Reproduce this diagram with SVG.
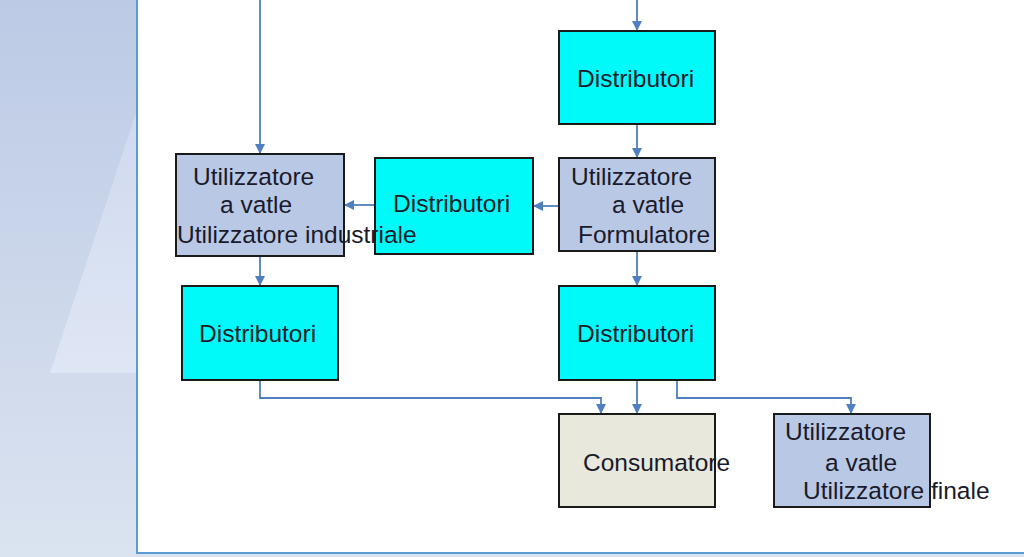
<svg xmlns="http://www.w3.org/2000/svg" width="1024" height="557" viewBox="0 0 1024 557">
<defs>
<linearGradient id="bg" x1="0" y1="0" x2="0" y2="1">
<stop offset="0" stop-color="#bccae5"/>
<stop offset="1" stop-color="#dbe3f0"/>
</linearGradient>
<linearGradient id="sh" x1="0" y1="0" x2="0" y2="1">
<stop offset="0" stop-color="#d3dcf0"/>
<stop offset="1" stop-color="#e2e9f7"/>
</linearGradient>
<marker id="ah" viewBox="0 0 10 10" refX="10" refY="5" markerWidth="10" markerHeight="10" markerUnits="userSpaceOnUse" orient="auto">
<path d="M0,0 L10,5 L0,10 z" fill="#4f7fc0"/>
</marker>
<style>
.cy{fill:#00fafa;stroke:#1a1a1a;stroke-width:2}
.bl{fill:#b9c9e5;stroke:#1a1a1a;stroke-width:2}
.bg{fill:#e8e8dc;stroke:#1a1a1a;stroke-width:2}
.t{font-family:"Liberation Sans",Arial,sans-serif;font-size:24.5px;fill:#1a1a2a}
.c{fill:none;stroke:#4f7fc0;stroke-width:1.8;marker-end:url(#ah)}
</style>
</defs>
<rect x="0" y="0" width="1024" height="557" fill="url(#bg)"/>
<polygon points="50,373 137,110 137,373" fill="url(#sh)" opacity="0.8"/>
<rect x="137" y="-5" width="900" height="558" fill="#ffffff" stroke="#5b9bd5" stroke-width="2"/>

<g id="connectors">
<path class="c" d="M260,0 V154"/>
<path class="c" d="M637,0 V31"/>
<path class="c" d="M637,124 V158"/>
<path class="c" d="M375,205 H344"/>
<path class="c" d="M559,206 H533"/>
<path class="c" d="M637,251 V286"/>
<path class="c" d="M260,256 V286"/>
<path class="c" d="M260,380 V398 H601 V414"/>
<path class="c" d="M637,380 V414"/>
<path class="c" d="M677,380 V398 H851 V414"/>
</g>

<g id="dist-top">
<rect class="cy" x="559" y="31" width="156" height="93"/>
<text class="t" x="577" y="87">Distributori</text>
</g>
<g id="dist-mid">
<rect class="cy" x="375" y="158" width="158" height="96"/>
<text class="t" x="393" y="212">Distributori</text>
</g>
<g id="util-industriale">
<rect class="bl" x="176" y="154" width="168" height="102"/>
<text class="t" x="193" y="185">Utilizzatore</text>
<text class="t" x="220" y="213">a vatle</text>
<text class="t" x="177" y="243">Utilizzatore industriale</text>
</g>
<g id="util-formulatore">
<rect class="bl" x="559" y="158" width="156" height="93"/>
<text class="t" x="571" y="185">Utilizzatore</text>
<text class="t" x="612" y="213">a vatle</text>
<text class="t" x="578" y="243">Formulatore</text>
</g>
<g id="dist-bottom-left">
<rect class="cy" x="182" y="286" width="156" height="94"/>
<text class="t" x="199" y="342">Distributori</text>
</g>
<g id="dist-bottom-right">
<rect class="cy" x="559" y="286" width="156" height="94"/>
<text class="t" x="577" y="342">Distributori</text>
</g>
<g id="consumatore">
<rect class="bg" x="559" y="414" width="156" height="93"/>
<text class="t" x="583" y="471">Consumatore</text>
</g>
<g id="util-finale">
<rect class="bl" x="774" y="414" width="156" height="93"/>
<text class="t" x="785" y="440">Utilizzatore</text>
<text class="t" x="825" y="471">a vatle</text>
<text class="t" x="803" y="499">Utilizzatore finale</text>
</g>
</svg>
